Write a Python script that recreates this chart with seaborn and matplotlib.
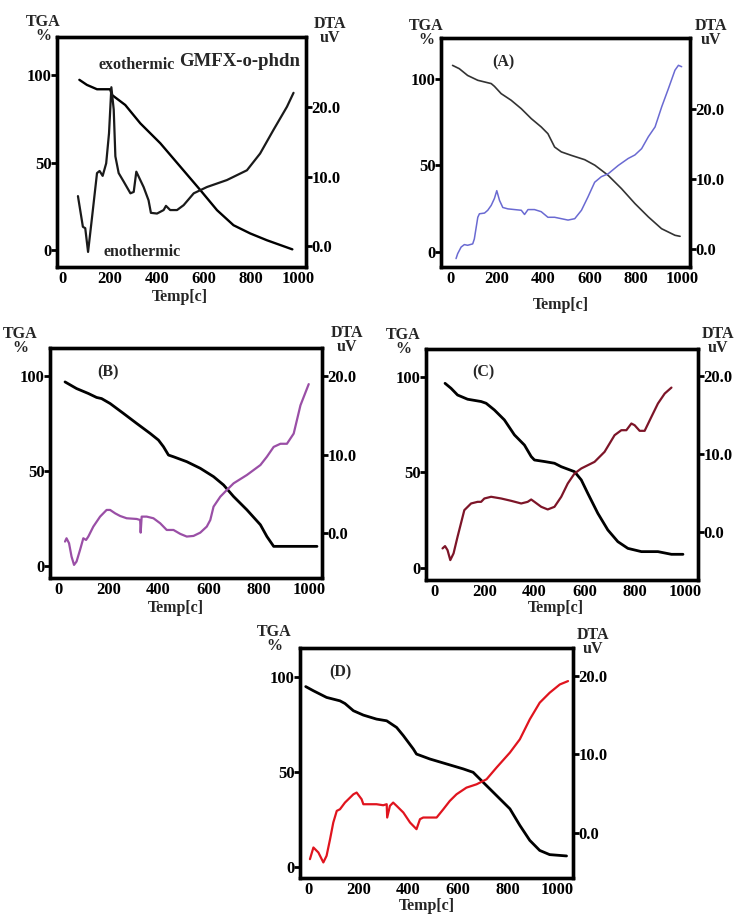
import numpy as np
import pandas as pd
import matplotlib
matplotlib.use("Agg")
import matplotlib.pyplot as plt
import seaborn as sns

# ---------------- data ----------------
# Panel GMFX-o-phdn
g_tga_t = [70, 102, 145, 201, 208, 265, 329, 414, 499, 584, 655, 725, 796, 867, 975]
g_tga_v = [97.5, 94.6, 92.1, 92.1, 88.9, 83.1, 72.6, 61.2, 47.8, 34.4, 22.9, 14.3, 9.6, 5.7, 0.5]
g_dta_t = [64, 85, 95, 107, 124, 145, 156, 169, 184, 196, 206, 216, 223, 237, 258, 287, 301, 312,
           343, 364, 374, 400, 428, 438, 456, 485, 513, 556, 612, 697, 782, 838, 895, 952, 980]
g_dta_v = [7.2, 2.8, 2.6, -0.8, 4.2, 10.5, 10.8, 10.1, 11.9, 16.2, 22.8, 19.6, 12.9, 10.5, 9.3, 7.6, 7.8, 10.7,
           8.5, 6.6, 4.8, 4.7, 5.2, 5.8, 5.2, 5.2, 5.9, 7.6, 8.5, 9.5, 10.9, 13.3, 16.7, 20.0, 22.0]

# Panel (A)
a_tga_t = [9, 38, 74, 118, 176, 190, 219, 262, 306, 349, 392, 421, 450, 479, 522, 580, 624, 681, 739, 797, 855, 912, 970, 992]
a_tga_v = [107.7, 105.8, 101.9, 99.1, 97.2, 95.6, 91.4, 87.6, 82.7, 77.0, 72.2, 68.3, 60.6, 57.8, 55.8, 53.3, 50.1,
           44.3, 36.6, 28.0, 20.3, 13.5, 9.7, 9.1]
a_dta_t = [24, 31, 46, 60, 74, 96, 103, 118, 125, 147, 161, 176, 190, 200, 212, 226, 248, 277, 306, 320, 335, 363,
           392, 421, 450, 479, 508, 537, 566, 594, 623, 652, 681, 725, 768, 797, 826, 855, 884, 913, 942, 970, 985, 999]
a_dta_v = [-1.4, -0.7, 0.25, 0.6, 0.5, 0.7, 1.4, 4.5, 5.0, 5.1, 5.5, 6.2, 7.2, 8.3, 6.9, 5.9, 5.7, 5.6, 5.5, 4.9, 5.6,
           5.6, 5.3, 4.5, 4.5, 4.3, 4.1, 4.3, 5.5, 7.4, 9.5, 10.3, 10.7, 11.9, 12.9, 13.4, 14.3, 16.0, 17.4, 20.3,
           22.9, 25.5, 26.2, 26.0]

# Panel (B)
b_tga_t = [27, 73, 120, 153, 173, 207, 260, 313, 367, 400, 420, 440, 460, 513, 567, 620, 660, 700, 753, 807, 833,
           860, 913, 1033]
b_tga_v = [97.0, 93.5, 90.9, 88.8, 88.2, 85.6, 80.4, 75.1, 69.8, 66.3, 62.8, 58.4, 57.5, 54.9, 51.4, 47.0, 42.6,
           36.5, 29.5, 21.6, 15.4, 10.2, 10.2, 10.2]
b_dta_t = [27, 33, 43, 53, 63, 73, 87, 100, 111, 120, 140, 167, 193, 207, 227, 247, 273, 313, 327, 329, 333, 353,
           380, 407, 433, 460, 487, 513, 540, 567, 593, 607, 620, 647, 673, 700, 753, 807, 833, 860, 887, 913, 940,
           967, 1000]
b_dta_v = [-1.06, -0.64, -1.27, -2.97, -4.03, -3.6, -2.12, -0.64, -0.85, -0.42, 0.85, 2.12, 2.97, 2.97, 2.54, 2.2,
           1.91, 1.82, 1.69, 0.08, 2.12, 2.12, 1.91, 1.27, 0.42, 0.42, -0.08, -0.42, -0.34, 0.08, 0.85, 1.69, 3.39,
           4.66, 5.51, 6.36, 7.42, 8.69, 9.75, 11.0, 11.4, 11.4, 12.7, 16.3, 19.0]

# Panel (C)
c_tga_t = [43, 67, 93, 133, 187, 207, 240, 280, 320, 360, 387, 400, 440, 480, 507, 560, 587, 613, 653, 693, 733,
           773, 827, 893, 947, 993]
c_tga_v = [96.5, 93.9, 90.4, 88.2, 87.0, 86.1, 82.6, 77.4, 69.6, 64.3, 58.3, 56.5, 55.7, 54.8, 53.0, 50.4, 46.1,
           39.1, 28.7, 20.0, 13.9, 10.4, 8.7, 8.7, 7.3, 7.3]
c_dta_t = [33, 43, 53, 64, 77, 93, 120, 147, 173, 187, 200, 227, 267, 307, 347, 373, 387, 400, 427, 453, 480, 507,
           533, 560, 587, 640, 680, 700, 720, 747, 767, 787, 800, 820, 840, 867, 893, 920, 947]
c_dta_v = [-2.14, -1.84, -2.36, -3.64, -2.78, -0.64, 2.78, 3.64, 3.85, 3.85, 4.28, 4.5, 4.28, 3.98, 3.64, 3.85,
           4.15, 3.85, 3.21, 2.87, 3.21, 4.5, 6.21, 7.49, 8.14, 8.99, 10.28, 11.35, 12.42, 13.06, 13.06, 13.92,
           13.7, 12.98, 12.98, 14.78, 16.49, 17.77, 18.54]

# Panel (D)
d_tga_t = [-12, 19, 72, 126, 146, 180, 220, 273, 314, 354, 381, 421, 434, 488, 555, 622, 662, 702, 756, 810, 850,
           890, 930, 970, 1038]
d_tga_v = [94.9, 92.7, 89.2, 87.4, 86.0, 82.2, 79.9, 77.8, 76.9, 73.4, 69.1, 62.1, 59.4, 56.8, 54.2, 51.6, 49.8,
           44.6, 37.6, 30.6, 21.9, 14.0, 8.7, 6.5, 5.8]
d_dta_t = [5, 19, 39, 59, 72, 86, 99, 113, 126, 146, 180, 193, 213, 220, 247, 273, 300, 314, 316, 327, 340, 354,
           381, 408, 434, 448, 461, 501, 515, 542, 568, 595, 635, 676, 716, 756, 810, 850, 890, 930, 970, 1011, 1044]
d_dta_v = [-3.39, -1.9, -2.54, -3.81, -2.96, -0.84, 1.29, 2.78, 2.99, 3.84, 4.9, 5.12, 4.27, 3.63, 3.63, 3.63, 3.5,
           3.63, 1.93, 3.42, 3.84, 3.42, 2.57, 1.29, 0.44, 1.72, 1.93, 1.93, 1.93, 2.99, 4.05, 4.9, 5.75, 6.18, 6.82,
           8.31, 10.23, 11.93, 14.48, 16.61, 17.88, 18.94, 19.37]

x_ticks = [0, 200, 400, 600, 800, 1000]
tga_ticks = [0, 50, 100]
dta_ticks = [0.0, 10.0, 20.0]

# ---------------- style ----------------
sns.set_theme(style="white")
plt.rcParams['font.family'] = ['Liberation Serif', 'DejaVu Serif']
plt.rcParams['font.weight'] = 'bold'

W, H = 736, 914
fig = plt.figure(figsize=(W / 100, H / 100), dpi=100)
TICK_FS = 12
TXT_FS = 11.5


def px_rect(l, t, r, b):
    return [l / W, 1 - b / H, (r - l) / W, (b - t) / H]


def ftext(x, y, s, size=TXT_FS, ha='center'):
    fig.text(x / W, 1 - y / H, s, fontsize=size, fontweight='bold', ha=ha, va='center',
             multialignment='center', linespacing=0.85,
             family=['Liberation Serif', 'DejaVu Serif'])


def panel(rect, tga_t, tga_v, dta_t, dta_v, dta_color, xlim, tga_lim, dta_lim, lw_tga, lw_dta, tga_color='black'):
    ax = fig.add_axes(px_rect(*rect))
    ax2 = ax.twinx()
    sns.lineplot(x=tga_t, y=tga_v, ax=ax, color=tga_color, lw=lw_tga, sort=False, estimator=None)
    sns.lineplot(x=dta_t, y=dta_v, ax=ax2, color=dta_color, lw=lw_dta, sort=False, estimator=None)
    ax.set_xlim(*xlim)
    ax.set_ylim(*tga_lim)
    ax2.set_ylim(*dta_lim)
    ax.set_xticks(x_ticks)
    ax.set_yticks(tga_ticks)
    ax2.set_yticks(dta_ticks)
    ax.set_xticklabels([str(v) for v in x_ticks])
    ax.set_yticklabels([str(v) for v in tga_ticks])
    ax2.set_yticklabels([f"{v:.1f}" for v in dta_ticks])
    for a in (ax, ax2):
        a.set_xlabel('')
        a.set_ylabel('')
        a.grid(False)
        for sp in a.spines.values():
            sp.set_visible(True)
            sp.set_color('black')
            sp.set_linewidth(2.4)
    ax.tick_params(axis='x', direction='in', length=4, width=2, labelsize=TICK_FS, pad=3, colors='black')
    ax.tick_params(axis='y', direction='out', length=4, width=2, labelsize=TICK_FS, pad=0, colors='black', left=True)
    ax2.tick_params(axis='y', direction='out', length=4, width=2, labelsize=TICK_FS, pad=0, colors='black', right=True)
    for lab in ax.get_xticklabels() + ax.get_yticklabels() + ax2.get_yticklabels():
        lab.set_fontweight('bold')
    return ax, ax2


# Panel GMFX-o-phdn
panel((57, 37, 306, 267), g_tga_t, g_tga_v, g_dta_t, g_dta_v, '#1a1a1a',
      (-25, 1033), (-9.6, 122), (-2.96, 30.0), 1.7, 1.6)
ftext(43, 29, 'TGA\n%')
ftext(330, 31, 'DTA\nuV')
ftext(137, 65, 'exothermic')
ftext(240, 61, 'GMFX-o-phdn', size=13.5)
ftext(142, 252, 'enothermic')
ftext(180, 297, 'Temp[c]')

# Panel (A)
panel((441, 38, 690, 267), a_tga_t, a_tga_v, a_dta_t, a_dta_v, '#6a6ad2',
      (-41, 1035), (-8.6, 123.5), (-2.6, 30.1), 1.2, 1.1, tga_color='#333333')
ftext(426, 33, 'TGA\n%')
ftext(711, 33, 'DTA\nuV')
ftext(503, 62, '(A)')
ftext(561, 305, 'Temp[c]')

# Panel (B)
panel((50, 348, 322, 578), b_tga_t, b_tga_v, b_dta_t, b_dta_v, '#9a4fa6',
      (-33, 1053), (-6.5, 114.9), (-5.7, 23.6), 2.0, 1.6)
ftext(20, 341, 'TGA\n%')
ftext(347, 340, 'DTA\nuV')
ftext(108, 372, '(B)')
ftext(176, 608, 'Temp[c]')

# Panel (C)
panel((426, 349, 698, 580), c_tga_t, c_tga_v, c_dta_t, c_dta_v, '#7d1528',
      (-33, 1053), (-6.1, 114.4), (-6.2, 23.5), 2.0, 1.6)
ftext(403, 342, 'TGA\n%')
ftext(718, 341, 'DTA\nuV')
ftext(483, 372, '(C)')
ftext(556, 608, 'Temp[c]')

# Panel (D)
panel((300, 648, 573, 878), d_tga_t, d_tga_v, d_dta_t, d_dta_v, '#e0141e',
      (-35, 1064), (-5.8, 115.2), (-5.8, 23.6), 2.0, 1.6)
ftext(274, 639, 'TGA\n%')
ftext(593, 642, 'DTA\nuV')
ftext(340, 672, '(D)')
ftext(427, 906, 'Temp[c]')

fig.savefig('out.png', dpi=100)
